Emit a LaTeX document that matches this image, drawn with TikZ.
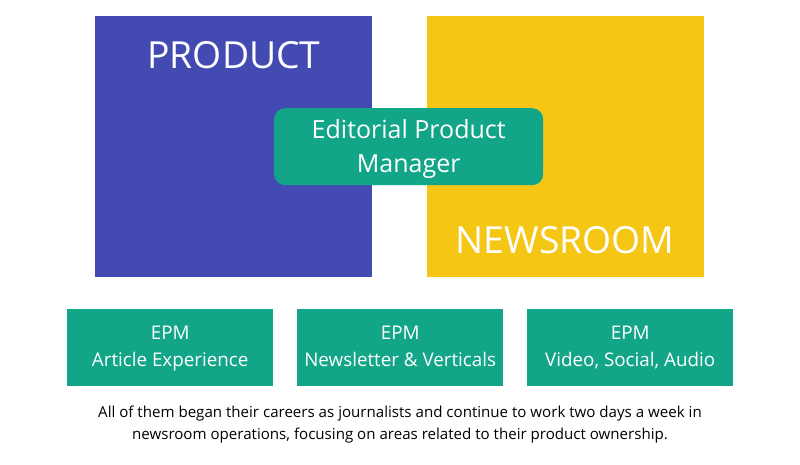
\documentclass[tikz,border=0pt]{standalone}
\usepackage{fontspec}
\setmainfont{Open Sans}
\definecolor{prodblue}{RGB}{67,75,178}
\definecolor{newsyellow}{RGB}{246,198,21}
\definecolor{epmgreen}{RGB}{18,165,136}
\begin{document}
\begin{tikzpicture}[x=1pt,y=-1pt,
  bigbox/.style={draw=none,minimum width=277pt,minimum height=261pt,inner sep=0pt,anchor=north west},
  epmbox/.style={fill=epmgreen,minimum width=206pt,minimum height=77pt,inner sep=0pt,anchor=north west},
  epmtext/.style={text=white,inner sep=0pt,align=center,font=\fontsize{18.8}{27}\selectfont,text depth=5pt},
  bigtext/.style={text=white,font=\fontsize{37.3}{44}\selectfont,inner sep=0pt}]
\useasboundingbox (0,0) rectangle (800,464);
\node[bigbox,fill=prodblue] (product) at (95,16) {};
\node[bigbox,fill=newsyellow] (newsroom) at (427,16) {};
\node[bigtext] (producttext) at (234,55) {PRODUCT};
\node[bigtext] (newstext) at (565,240) {NEWSROOM};
\node[fill=epmgreen,rounded corners=11pt,minimum width=269pt,minimum height=77pt,inner sep=0pt,anchor=north west] (epm) at (274,108) {};
\node[text=white,inner sep=0pt,align=center,font=\fontsize{25}{33.5}\selectfont] (epmtext) at ([yshift=-2.5pt]epm.center) {Editorial Product\\Manager};
\node[epmbox] (e1) at (67,309) {};
\node[epmbox] (e2) at (297,309) {};
\node[epmbox] (e3) at (527,309) {};
\node[epmtext] (t1) at ([yshift=-1.5pt]e1.center) {EPM\\Article Experience};
\node[epmtext] (t2) at ([yshift=-1.5pt]e2.center) {EPM\\Newsletter \& Verticals};
\node[epmtext] (t3) at ([yshift=-1.5pt]e3.center) {EPM\\Video, Social, Audio};
\node[align=center,font=\fontsize{15.1}{22}\selectfont,inner sep=0pt] (note) at (400,424.5) {All of them began their careers as journalists and continue to work two days a week in\\newsroom operations, focusing on areas related to their product ownership.};
\end{tikzpicture}
\end{document}
